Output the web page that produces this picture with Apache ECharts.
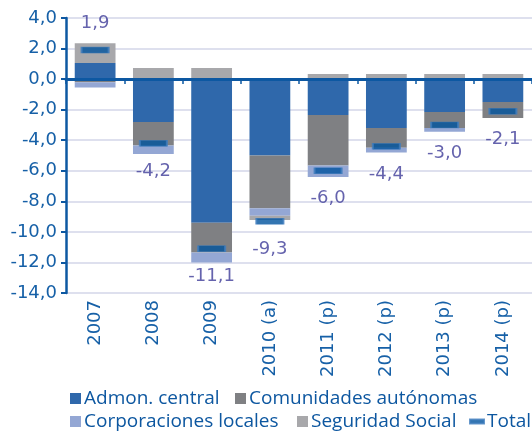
<!DOCTYPE html>
<html>
<head>
<meta charset="utf-8">
<script src="https://cdn.jsdelivr.net/npm/echarts@6/dist/echarts.min.js"></script>
<style>
  html, body { margin: 0; padding: 0; background: #ffffff; }
  #chart { width: 532px; height: 435px; }
</style>
</head>
<body>
<div id="chart"></div>
<script>
// Saldo de las administraciones públicas (% del PIB), por subsector
const categories = ['2007', '2008', '2009', '2010 (a)', '2011 (p)', '2012 (p)', '2013 (p)', '2014 (p)'];
const admonCentral = [1.05, -2.8, -9.4, -5.0, -2.35, -3.2, -2.15, -1.5];
const comunidades = [-0.2, -1.55, -1.95, -3.45, -3.3, -1.3, -1.05, -1.05];
const corporaciones = [-0.35, -0.55, -0.65, -0.5, -0.75, -0.3, -0.25, 0];
const seguridadSocial = [1.3, 0.72, 0.72, -0.27, 0.34, 0.34, 0.34, 0.34];
const total = [1.9, -4.2, -11.1, -9.3, -6.0, -4.4, -3.0, -2.1];
const yTicks = { min: -14, max: 4, step: 2 };

const AXIS_BLUE = '#0d58a2';
const TEXT_BLUE = '#1660a7';
const fmt = v => v.toFixed(1).replace('.', ',');

const chart = echarts.init(document.getElementById('chart'), null, { renderer: 'canvas' });

function legendAt(name, left, top, opts) {
  return Object.assign({
    data: [name],
    left: left,
    top: top,
    padding: 0,
    itemGap: 0,
    itemWidth: 11,
    itemHeight: 11,
    icon: 'rect',
    selectedMode: false,
    textStyle: { fontFamily: 'Open Sans', fontSize: 19, color: '#0d57a0', padding: [0, 0, 0, -2] }
  }, opts || {});
}

const barBase = {
  type: 'bar',
  stack: 'saldo',
  barWidth: '70%',
  xAxisIndex: 0,
  yAxisIndex: 0
};

chart.setOption({
  animation: false,
  grid: { left: 66, right: 0, top: 18, bottom: 142, containLabel: false },
  legend: [
    legendAt('Admon. central', 70, 389),
    legendAt('Comunidades autónomas', 235, 389),
    legendAt('Corporaciones locales', 70, 412),
    legendAt('Seguridad Social', 297, 412),
    legendAt('Total', 469, 412, { itemWidth: 14, itemHeight: 4 })
  ],
  xAxis: [
    {
      type: 'category',
      data: categories,
      position: 'bottom',
      axisLine: { show: false, onZero: false },
      axisTick: { show: false },
      axisLabel: {
        rotate: 90,
        margin: 7,
        color: TEXT_BLUE,
        fontFamily: 'DejaVu Sans',
        fontSize: 18
      }
    },
    {
      type: 'category',
      data: categories,
      position: 'top',
      z: 10,
      axisLine: { show: true, onZero: true, lineStyle: { color: AXIS_BLUE, width: 3 } },
      axisTick: { show: true, inside: true, length: 5, lineStyle: { color: AXIS_BLUE, width: 1.5 } },
      axisLabel: { show: false }
    }
  ],
  yAxis: {
    type: 'value',
    min: yTicks.min,
    max: yTicks.max,
    interval: yTicks.step,
    axisLine: { show: true, onZero: false, lineStyle: { color: AXIS_BLUE, width: 2.5 } },
    axisTick: { show: true, length: 5, lineStyle: { color: AXIS_BLUE, width: 2 } },
    axisLabel: {
      margin: 9,
      color: TEXT_BLUE,
      fontFamily: 'DejaVu Sans',
      fontSize: 18,
      formatter: fmt
    },
    splitLine: { show: true, lineStyle: { color: '#d3d6e8', width: 1.5 } }
  },
  series: [
    Object.assign({ name: 'Admon. central', data: admonCentral, itemStyle: { color: '#2f68ab' } }, barBase),
    Object.assign({ name: 'Comunidades autónomas', data: comunidades, itemStyle: { color: '#7f8083' } }, barBase),
    Object.assign({ name: 'Corporaciones locales', data: corporaciones, itemStyle: { color: '#94a7d4' } }, barBase),
    Object.assign({ name: 'Seguridad Social', data: seguridadSocial, itemStyle: { color: '#a8a8ab' } }, barBase),
    {
      name: 'Total',
      type: 'scatter',
      xAxisIndex: 0,
      yAxisIndex: 0,
      z: 5,
      symbol: 'rect',
      symbolSize: [27, 6],
      itemStyle: { color: '#00529e', borderColor: '#3f7dbe', borderWidth: 1 },
      data: total.map(v => ({
        value: v,
        label: { offset: [0, v < 0 ? 28 : -27] }
      })),
      label: {
        show: true,
        position: 'inside',
        color: '#3e3c98',
        fontFamily: 'DejaVu Sans',
        fontSize: 18,
        formatter: p => fmt(p.value)
      }
    }
  ]
});
</script>
</body>
</html>
